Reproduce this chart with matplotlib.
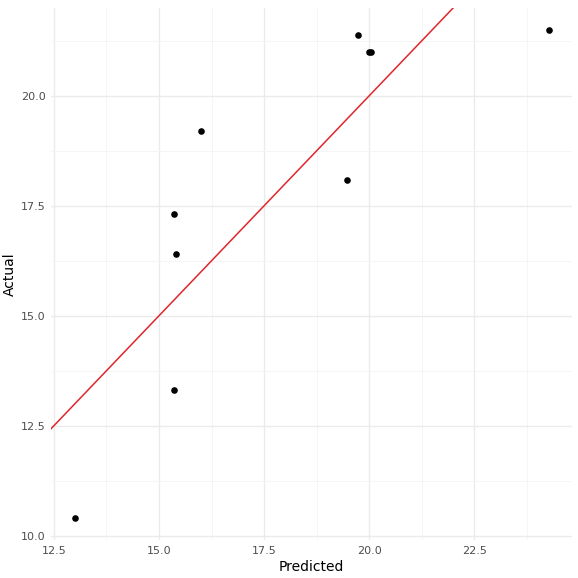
import matplotlib.pyplot as plt
import numpy as np

predicted = [13.0, 15.36, 15.36, 15.4, 16.0, 19.48, 19.74, 20.0, 20.05, 24.29]
actual = [10.41, 13.32, 17.32, 16.41, 19.2, 18.09, 21.39, 21.0, 21.0, 21.5]

fig = plt.figure(figsize=(5.78, 5.78), dpi=100)
ax = fig.add_axes([51/578, 38/578, 521/578, 532/578])

ax.set_xlim(12.43, 24.83)
ax.set_ylim(9.9, 22.0)
ax.set_xticks([12.5, 15.0, 17.5, 20.0, 22.5])
ax.set_yticks([10.0, 12.5, 15.0, 17.5, 20.0])
ax.set_xticks(np.arange(13.75, 24.83, 2.5), minor=True)
ax.set_yticks(np.arange(11.25, 22.0, 2.5), minor=True)
ax.grid(which='major', color='#ebebeb', linewidth=1.0)
ax.grid(which='minor', color='#f4f4f4', linewidth=0.6)
ax.set_axisbelow(True)
for s in ax.spines.values():
    s.set_visible(False)
ax.tick_params(which='both', length=0, labelsize=8, labelcolor='#4d4d4d', pad=4)

ax.axline((0, 0), slope=1, color='#e0262b', linewidth=1.1)
ax.scatter(predicted, actual, s=14, color='black', zorder=3)

ax.set_xlabel('Predicted', fontsize=10, labelpad=3)
ax.set_ylabel('Actual', fontsize=10, labelpad=3)

fig.savefig('out.png', dpi=100)
